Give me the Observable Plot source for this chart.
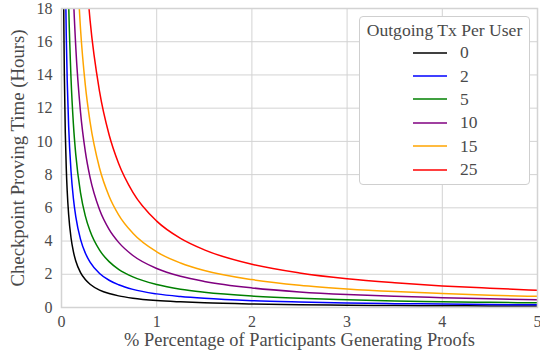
<!DOCTYPE html>
<html>
<head>
<meta charset="utf-8">
<script src="https://cdn.jsdelivr.net/npm/d3@7"></script>
<script src="https://cdn.jsdelivr.net/npm/@observablehq/plot@0.6"></script>
<style>
  html, body { margin: 0; padding: 0; background: #fff; }
  #wrap { position: relative; width: 540px; height: 359px; overflow: hidden; font-family: "Liberation Serif", serif; }
  #wrap svg text { font-family: "Liberation Serif", serif; }
  #legend { position: absolute; left: 359px; top: 16px; width: 171px; height: 169px; border: 1px solid #cfcfcf; border-radius: 4px; background: #fff; box-sizing: border-box; color: #4a4a4a; }
  #legend .title { font-size: 17.6px; line-height: 20px; text-align: center; padding-top: 3px; height: 21px; }
  #legend .row { display: flex; align-items: center; height: 23.4px; font-size: 17.5px; }
  #legend .row svg { margin-left: 53px; margin-right: 13px; display: block; }
</style>
</head>
<body>
<div id="wrap"></div>
<script>
// Data
const xValues = [0.02,0.025,0.03,0.04,0.05,0.06,0.075,0.1,0.125,0.15,0.2,0.25,0.3,0.4,0.5,0.6,0.75,1,1.25,1.5,2,2.5,3,3.5,4,4.5,5];
const seriesNames = ["0", "2", "5", "10", "15", "25"];
const seriesColors = ["#000000", "#0000ff", "#008000", "#800080", "#ffa500", "#ff0000"];
const tx0 = [21,16.8,14,10.5,8.4,7,5.6,4.2,3.36,2.8,2.1,1.68,1.4,1.05,0.84,0.7,0.56,0.42,0.34,0.28,0.21,0.17,0.14,0.12,0.105,0.093,0.084];
const tx2 = [null,null,null,20.5,16.4,13.67,10.93,8.2,6.56,5.47,4.1,3.28,2.73,2.05,1.64,1.37,1.09,0.82,0.66,0.55,0.41,0.33,0.27,0.23,0.21,0.18,0.16];
const tx5 = [null,null,null,null,null,23,18.4,13.8,11.04,9.2,6.9,5.52,4.6,3.45,2.76,2.3,1.84,1.38,1.1,0.92,0.69,0.55,0.46,0.39,0.35,0.31,0.28];
const tx10 = [null,null,null,null,null,null,null,23.5,18.8,15.67,11.75,9.4,7.83,5.88,4.7,3.92,3.13,2.35,1.88,1.57,1.18,0.94,0.78,0.67,0.59,0.52,0.47];
const tx15 = [null,null,null,null,null,null,null,null,null,22.3,16.75,13.4,11.17,8.38,6.7,5.58,4.47,3.35,2.68,2.23,1.68,1.34,1.12,0.96,0.84,0.74,0.67];
const tx25 = [null,null,null,null,null,null,null,null,null,null,null,20.8,17.3,13.0,10.4,8.67,6.93,5.2,4.16,3.47,2.6,2.08,1.73,1.49,1.3,1.16,1.04];
const xTicks = [0,1,2,3,4,5];
const yTicks = [0,2,4,6,8,10,12,14,16,18];
const xLabel = "% Percentage of Participants Generating Proofs";
const yLabel = "Checkpoint Proving Time (Hours)";
const legendTitle = "Outgoing Tx Per User";

const allSeries = [tx0, tx2, tx5, tx10, tx15, tx25];
const rows = [];
allSeries.forEach((ys, si) => {
  ys.forEach((y, i) => {
    if (y != null) rows.push({series: seriesNames[si], x: xValues[i], y});
  });
});

const textColor = "#4a4a4a";
const gridColor = "#d3d3d3";
const serif = "Liberation Serif, serif";

const chart = Plot.plot({
  width: 540,
  height: 359,
  marginLeft: 61,
  marginRight: 3,
  marginTop: 8,
  marginBottom: 52,
  style: {fontFamily: serif, fontSize: "15px", color: textColor, background: "#fff", overflow: "visible"},
  x: {domain: [0, 5]},
  y: {domain: [0, 18]},
  color: {domain: seriesNames, range: seriesColors},
  marks: [
    Plot.gridX(xTicks, {stroke: gridColor, strokeOpacity: 1, strokeWidth: 1}),
    Plot.gridY(yTicks, {stroke: gridColor, strokeOpacity: 1, strokeWidth: 1}),
    Plot.line(rows, {x: "x", y: "y", z: "series", stroke: "series", strokeWidth: 1.5, curve: "monotone-x", clip: true}),
    Plot.frame({stroke: gridColor, strokeWidth: 1.5}),
    Plot.axisX(xTicks, {tickSize: 0, tickPadding: 8, fontSize: 16, fontFamily: serif, label: null, fill: textColor}),
    Plot.axisY(yTicks, {tickSize: 0, tickPadding: 9, fontSize: 16, fontFamily: serif, label: null, fill: textColor}),
    Plot.text([xLabel], {text: d => d, frameAnchor: "bottom", textAnchor: "middle", dy: 38, fontSize: 18.4, fontFamily: serif, fill: textColor}),
    Plot.text([yLabel], {text: d => d, frameAnchor: "left", textAnchor: "middle", rotate: -90, dx: -44, fontSize: 18.8, fontFamily: serif, fill: textColor})
  ]
});

const wrap = document.getElementById("wrap");
wrap.appendChild(chart);

const legend = document.createElement("div");
legend.id = "legend";
const title = document.createElement("div");
title.className = "title";
title.textContent = legendTitle;
legend.appendChild(title);
seriesNames.forEach((name, i) => {
  const row = document.createElement("div");
  row.className = "row";
  const svgNS = "http://www.w3.org/2000/svg";
  const sw = document.createElementNS(svgNS, "svg");
  sw.setAttribute("width", "34");
  sw.setAttribute("height", "6");
  const ln = document.createElementNS(svgNS, "line");
  ln.setAttribute("x1", "0"); ln.setAttribute("x2", "34");
  ln.setAttribute("y1", "3"); ln.setAttribute("y2", "3");
  ln.setAttribute("stroke", seriesColors[i]);
  ln.setAttribute("stroke-width", "1.6");
  sw.appendChild(ln);
  const lab = document.createElement("span");
  lab.textContent = name;
  row.appendChild(sw);
  row.appendChild(lab);
  legend.appendChild(row);
});
wrap.appendChild(legend);
</script>
</body>
</html>
